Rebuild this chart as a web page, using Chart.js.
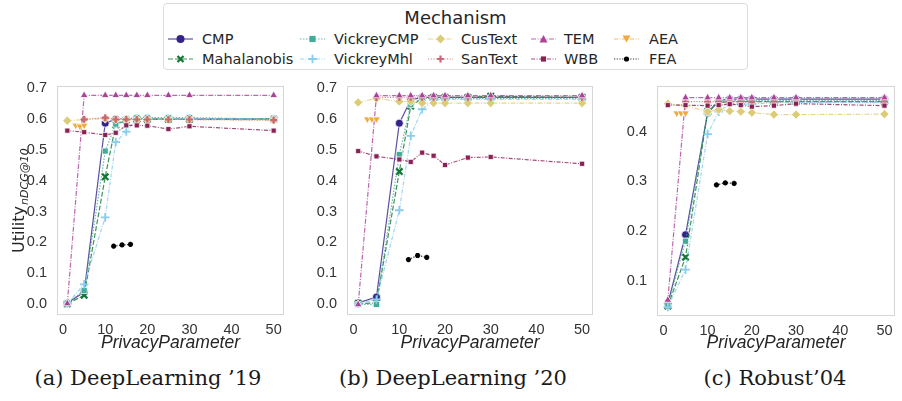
<!DOCTYPE html>
<html>
<head>
<meta charset="utf-8">
<script src="https://cdn.jsdelivr.net/npm/chart.js@4.4.1/dist/chart.umd.min.js"></script>
<style>
  body { margin: 0; width: 902px; height: 401px; overflow: hidden; position: relative; background: #fff;
         font-family: "DejaVu Sans", sans-serif; color: #262626; }
  .panel { position: absolute; top: 75px; height: 280px; }
  .cap { position: absolute; top: 366px; font-family: "DejaVu Serif", serif; font-size: 21px; color: #1a1a1a;
         white-space: nowrap; transform: translateX(-50%); }
  #legend { position: absolute; left: 163px; top: 3px; width: 585px; height: 67px; border: 1px solid #dcdcdc;
            border-radius: 4px; box-sizing: border-box; }
  #legend .title { position: absolute; left: 0; right: 0; top: 3px; text-align: center; font-size: 18px; }
  .item { position: absolute; font-size: 14.5px; line-height: 18px; white-space: nowrap; }
  .item svg { position: absolute; left: 0; top: 0; }
</style>
</head>
<body>
<div id="legend"><div class="title">Mechanism</div></div>
<div class="panel" style="left:0;width:295px"><canvas id="c1" width="295" height="280"></canvas></div>
<div class="panel" style="left:300px;width:300px"><canvas id="c2" width="300" height="280"></canvas></div>
<div class="panel" style="left:600px;width:302px"><canvas id="c3" width="302" height="280"></canvas></div>
<div class="cap" style="left:148px">(a) DeepLearning ’19</div>
<div class="cap" style="left:453px">(b) DeepLearning ’20</div>
<div class="cap" style="left:775px">(c) Robust’04</div>
<script>
// privacy parameter values
var xValues = [1, 5, 10, 12.5, 15, 17.5, 20, 25, 30, 50];
var aeaX = [3, 4, 5];
var feaX = [12, 14, 16];
var xTicks = [0, 10, 20, 30, 40, 50];

var mechanisms = ['CMP', 'Mahalanobis', 'VickreyCMP', 'VickreyMhl', 'CusText', 'SanText', 'TEM', 'WBB', 'AEA', 'FEA'];

// (a) DeepLearning '19
var dl19_CMP         = [0.005, 0.040, 0.585, 0.598, 0.598, 0.598, 0.598, 0.598, 0.598, 0.598];
var dl19_Mahalanobis = [0.002, 0.030, 0.412, 0.580, 0.595, 0.598, 0.598, 0.598, 0.598, 0.598];
var dl19_VickreyCMP  = [0.005, 0.045, 0.495, 0.582, 0.598, 0.603, 0.603, 0.603, 0.603, 0.598];
var dl19_VickreyMhl  = [0.003, 0.065, 0.281, 0.524, 0.558, 0.600, 0.600, 0.600, 0.600, 0.598];
var dl19_CusText     = [0.593, 0.597, 0.600, 0.597, 0.597, 0.597, 0.597, 0.597, 0.597, 0.595];
var dl19_SanText     = [null,  0.597, 0.603, 0.597, 0.597, 0.597, 0.597, 0.597, 0.597, 0.595];
var dl19_TEM         = [0.003, 0.675, 0.675, 0.675, 0.675, 0.675, 0.675, 0.675, 0.675, 0.675];
var dl19_WBB         = [0.561, 0.556, 0.547, 0.554, 0.578, 0.578, 0.577, 0.566, 0.575, 0.561];
var dl19_AEA         = [0.578, 0.575, 0.578];
var dl19_FEA         = [0.188, 0.192, 0.194];

// (b) DeepLearning '20
var dl20_CMP         = [0.005, 0.024, 0.585, 0.660, 0.668, 0.668, 0.668, 0.668, 0.668, 0.668];
var dl20_Mahalanobis = [0.003, 0.005, 0.429, 0.640, 0.665, 0.668, 0.668, 0.668, 0.672, 0.668];
var dl20_VickreyCMP  = [0.000, 0.000, 0.484, 0.645, 0.665, 0.665, 0.665, 0.665, 0.665, 0.665];
var dl20_VickreyMhl  = [0.003, 0.016, 0.304, 0.544, 0.630, 0.660, 0.662, 0.662, 0.662, 0.662];
var dl20_CusText     = [0.652, 0.665, 0.655, 0.655, 0.650, 0.650, 0.650, 0.650, 0.650, 0.650];
var dl20_SanText     = [null,  0.668, 0.668, 0.668, 0.668, 0.668, 0.668, 0.668, 0.668, 0.668];
var dl20_TEM         = [0.000, 0.674, 0.674, 0.674, 0.674, 0.674, 0.674, 0.674, 0.674, 0.674];
var dl20_WBB         = [0.495, 0.478, 0.468, 0.460, 0.490, 0.480, 0.450, 0.474, 0.476, 0.454];
var dl20_AEA         = [0.598, 0.598, 0.598];
var dl20_FEA         = [0.145, 0.158, 0.152];

// (c) Robust'04
var rb04_CMP         = [0.055, 0.193, 0.437, 0.462, 0.465, 0.465, 0.465, 0.465, 0.465, 0.465];
var rb04_Mahalanobis = [0.050, 0.148, 0.440, 0.458, 0.460, 0.460, 0.460, 0.460, 0.460, 0.460];
var rb04_VickreyCMP  = [0.052, 0.180, 0.438, 0.460, 0.462, 0.462, 0.462, 0.462, 0.462, 0.462];
var rb04_VickreyMhl  = [0.048, 0.123, 0.395, 0.440, 0.455, 0.455, 0.455, 0.458, 0.458, 0.458];
var rb04_CusText     = [0.456, 0.452, 0.440, 0.444, 0.441, 0.440, 0.438, 0.434, 0.434, 0.435];
var rb04_SanText     = [null,  0.460, 0.460, 0.460, 0.460, 0.460, 0.460, 0.460, 0.460, 0.460];
var rb04_TEM         = [0.062, 0.468, 0.468, 0.468, 0.468, 0.468, 0.468, 0.468, 0.468, 0.468];
var rb04_WBB         = [0.453, 0.453, 0.452, 0.453, 0.455, 0.453, 0.450, 0.452, 0.456, 0.452];
var rb04_AEA         = [0.437, 0.437, 0.437];
var rb04_FEA         = [0.293, 0.297, 0.296];

var dl19Ticks = [0, 0.1, 0.2, 0.3, 0.4, 0.5, 0.6, 0.7];
var rb04Ticks = [0.1, 0.2, 0.3, 0.4];

// look of each mechanism (muted palette, seaborn-ish markers)
var styles = {
    CMP:         { color: '#332288', point: 'circle',   r: 4,   bw: 0.75, dash: [] },
    Mahalanobis: { color: '#117733', point: 'crossRot', r: 4.5, bw: 2.2,  dash: [5, 2] },
    VickreyCMP:  { color: '#44AA99', point: 'rect',     r: 4.3, bw: 0.75, dash: [1.5, 1.5] },
    VickreyMhl:  { color: '#88CCEE', point: 'cross',    r: 4.3, bw: 1.8,  dash: [4, 1.5, 1, 1.5] },
    CusText:     { color: '#DDCC77', point: 'rectRot',  r: 4.6, bw: 0.75, dash: [5, 1.5, 1, 1.5] },
    SanText:     { color: '#CC6677', point: 'cross',    r: 3.4, bw: 2.2,  dash: [1.2, 1.5] },
    TEM:         { color: '#AA4499', point: 'triangle', r: 4.4, bw: 0.75, dash: [5, 1.5, 1, 1.5] },
    WBB:         { color: '#882255', point: 'rect',     r: 3.6, bw: 0.75, dash: [4, 1.5, 1, 1.5] },
    AEA:         { color: '#F2A93B', point: 'triangle', r: 4.4, bw: 0.75, dash: [4, 1.5, 1, 1.5], rot: 180 },
    FEA:         { color: '#000000', point: 'star',     r: 2.6, bw: 1.6,  dash: [1.2, 1.5] }
};

function alpha(hex, a) {
    var n = parseInt(hex.slice(1), 16);
    return 'rgba(' + (n >> 16) + ',' + ((n >> 8) & 255) + ',' + (n & 255) + ',' + a + ')';
}

function isLineMarker(p) { return p === 'cross' || p === 'crossRot' || p === 'star'; }

function buildDatasets(seriesList) {
    return mechanisms.map(function(name, i) {
        var st = styles[name];
        var xs = name === 'AEA' ? aeaX : (name === 'FEA' ? feaX : xValues);
        return {
            label: name,
            data: seriesList[i].map(function(v, j) { return { x: xs[j], y: v }; }),
            borderColor: alpha(st.color, 0.8),
            borderWidth: 1.2,
            borderDash: st.dash,
            pointStyle: st.point,
            pointRadius: st.r,
            pointRotation: st.rot || 0,
            pointBackgroundColor: st.color,
            pointBorderColor: isLineMarker(st.point) ? st.color : '#ffffff',
            pointBorderWidth: st.bw,
            tension: 0,
            fill: false,
            clip: false,
            order: -i
        };
    });
}

// draw the light frame around the plot area
var framePlugin = {
    id: 'frame',
    beforeDatasetsDraw: function(chart) {
        var a = chart.chartArea, ctx = chart.ctx;
        ctx.save();
        ctx.strokeStyle = '#d6d6d6';
        ctx.lineWidth = 1;
        ctx.strokeRect(Math.round(a.left) + 0.5, Math.round(a.top) + 0.5,
                       Math.round(a.right - a.left) - 1, Math.round(a.bottom - a.top) - 1);
        ctx.restore();
    }
};

// y title with subscript (only first panel)
var yTitlePlugin = {
    id: 'ytitle',
    afterDraw: function(chart) {
        var ctx = chart.ctx;
        ctx.save();
        ctx.translate(24, 178);
        ctx.rotate(-Math.PI / 2);
        ctx.fillStyle = '#262626';
        ctx.textBaseline = 'alphabetic';
        ctx.font = '16px "DejaVu Sans"';
        ctx.fillText('Utility', 0, 0);
        var w = ctx.measureText('Utility').width;
        ctx.font = 'italic 11px "DejaVu Sans"';
        ctx.fillText('nDCG@10', w + 1, 3.5);
        ctx.restore();
    }
};

function makeChart(id, seriesList, o) {
    var ctx = document.getElementById(id).getContext('2d');
    return new Chart(ctx, {
        type: 'line',
        data: { datasets: buildDatasets(seriesList) },
        options: {
            responsive: false,
            animation: false,
            events: [],
            layout: { padding: { top: o.top, right: o.right, left: 0, bottom: 0 } },
            plugins: { legend: { display: false }, tooltip: { enabled: false } },
            scales: {
                x: {
                    type: 'linear',
                    min: -1.45, max: 52.45,
                    grid: { display: false },
                    border: { display: false },
                    afterBuildTicks: function(s) { s.ticks = xTicks.map(function(v) { return { value: v }; }); },
                    afterFit: function(s) { s.height = o.xh; },
                    ticks: { font: { size: 14.5 }, color: '#333', padding: -2, maxRotation: 0,
                              callback: function(v) { return v; } },
                    title: { display: true, text: 'PrivacyParameter', color: '#262626',
                             font: { size: 17.5, style: 'italic' }, padding: { top: 0, bottom: 1 } }
                },
                y: {
                    type: 'linear',
                    min: o.ymin, max: o.ymax,
                    grid: { display: false },
                    border: { display: false },
                    afterBuildTicks: function(s) { s.ticks = o.yTicks.map(function(v) { return { value: v }; }); },
                    afterFit: function(s) { s.width = o.yw; },
                    ticks: { font: { size: 14.5 }, color: '#333', padding: 2,
                              callback: function(v) { return v.toFixed(1); } }
                }
            }
        },
        plugins: o.ytitle ? [framePlugin, yTitlePlugin] : [framePlugin]
    });
}

makeChart('c1', [dl19_CMP, dl19_Mahalanobis, dl19_VickreyCMP, dl19_VickreyMhl, dl19_CusText,
                 dl19_SanText, dl19_TEM, dl19_WBB, dl19_AEA, dl19_FEA],
          { top: 7, right: 11, yw: 57, xh: 40, ymin: -0.034, ymax: 0.706, yTicks: dl19Ticks, ytitle: true });
makeChart('c2', [dl20_CMP, dl20_Mahalanobis, dl20_VickreyCMP, dl20_VickreyMhl, dl20_CusText,
                 dl20_SanText, dl20_TEM, dl20_WBB, dl20_AEA, dl20_FEA],
          { top: 7, right: 5, yw: 47, xh: 40, ymin: -0.034, ymax: 0.706, yTicks: dl19Ticks });
makeChart('c3', [rb04_CMP, rb04_Mahalanobis, rb04_VickreyCMP, rb04_VickreyMhl, rb04_CusText,
                 rb04_SanText, rb04_TEM, rb04_WBB, rb04_AEA, rb04_FEA],
          { top: 5, right: 1, yw: 57, xh: 39, ymin: 0.030, ymax: 0.492, yTicks: rb04Ticks });

// ~~ legend (html + small svg swatches) ~~
var legendCols = [[167, 201], [299, 333], [427, 460], [530, 563], [613, 648]];
var legendRows = [38, 58];

function markerSvg(st) {
    var c = st.color, s = '';
    if (st.point === 'circle') s = '<circle cx="12.5" cy="9" r="4" fill="' + c + '"/>';
    else if (st.point === 'rect') { var h = st.r * 0.72; s = '<rect x="' + (12.5 - h) + '" y="' + (9 - h) + '" width="' + 2 * h + '" height="' + 2 * h + '" fill="' + c + '"/>'; }
    else if (st.point === 'rectRot') s = '<polygon points="12.5,4.5 17,9 12.5,13.5 8,9" fill="' + c + '"/>';
    else if (st.point === 'crossRot') s = '<path d="M9.5,6L15.5,12M9.5,12L15.5,6" stroke="' + c + '" stroke-width="2.2"/>';
    else if (st.point === 'cross') { var q = st.r; s = '<path d="M' + (12.5 - q) + ',9H' + (12.5 + q) + 'M12.5,' + (9 - q) + 'V' + (9 + q) + '" stroke="' + c + '" stroke-width="' + st.bw + '"/>'; }
    else if (st.point === 'triangle' && st.rot) s = '<polygon points="8.5,5.5 16.5,5.5 12.5,12.5" fill="' + c + '"/>';
    else if (st.point === 'triangle') s = '<polygon points="12.5,5 16.5,12.5 8.5,12.5" fill="' + c + '"/>';
    else if (st.point === 'star') s = '<circle cx="12.5" cy="9" r="2.6" fill="' + c + '"/>';
    return s;
}

var legend = document.getElementById('legend');
mechanisms.forEach(function(name, i) {
    var st = styles[name];
    var col = legendCols[Math.floor(i / 2)], row = legendRows[i % 2];
    var sw = document.createElement('div');
    sw.className = 'item';
    sw.style.left = (col[0] - 163) + 'px';
    sw.style.top = (row - 9 - 3) + 'px';
    sw.innerHTML = '<svg width="26" height="18"><line x1="0" y1="9" x2="25" y2="9" stroke="' + alpha(st.color, 0.8) +
        '" stroke-width="1.2" stroke-dasharray="' + (st.dash.length ? st.dash.join(',') : 'none') + '"/>' + markerSvg(st) + '</svg>';
    legend.appendChild(sw);
    var tx = document.createElement('div');
    tx.className = 'item';
    tx.style.left = (col[1] - 163) + 'px';
    tx.style.top = (row - 9 - 3) + 'px';
    tx.textContent = name;
    legend.appendChild(tx);
});
</script>
</body>
</html>
